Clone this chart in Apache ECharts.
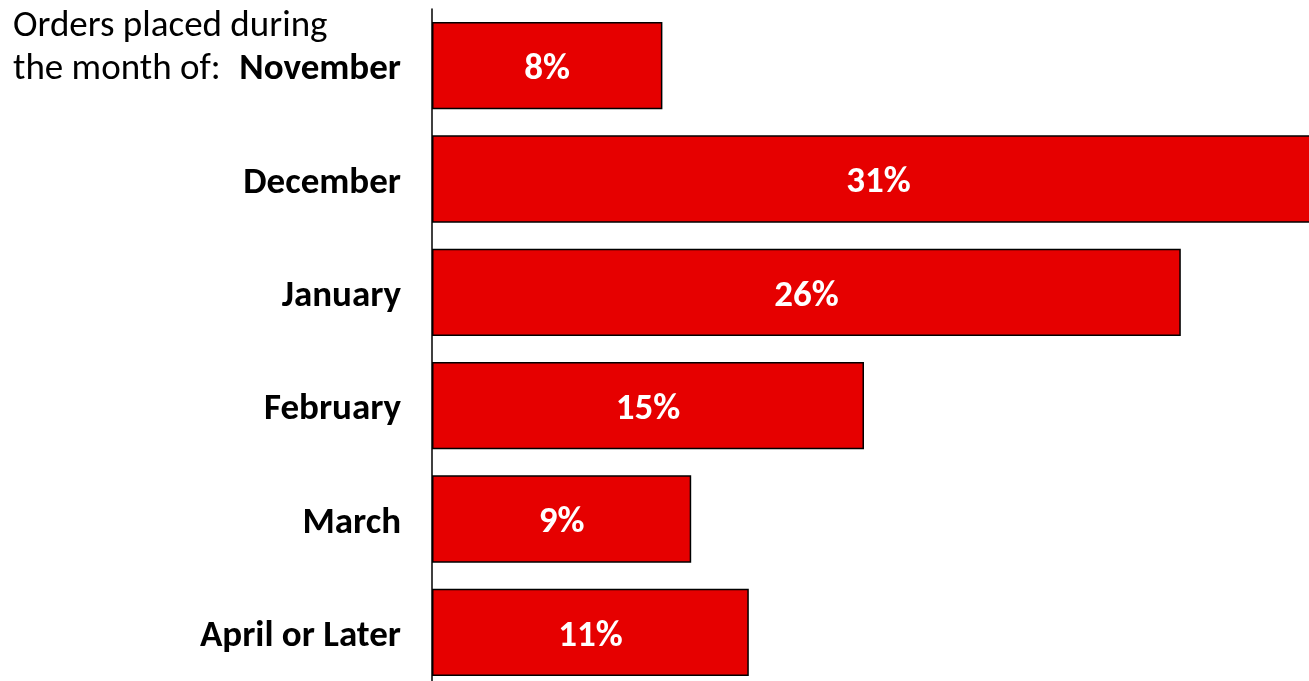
<!DOCTYPE html>
<html>
<head>
<meta charset="utf-8">
<script src="https://cdn.jsdelivr.net/npm/echarts@6/dist/echarts.min.js"></script>
<style>
  html, body { margin: 0; padding: 0; background: #fff; }
  #chart { width: 1309px; height: 681px; }
</style>
</head>
<body>
<div id="chart"></div>
<script>
// order share by month the order was placed
const months = ['November', 'December', 'January', 'February', 'March', 'April or Later'];
const shares = [8, 31, 26, 15, 9, 11];

const FONT = 'Carlito, Lato, sans-serif';

const chart = echarts.init(document.getElementById('chart'));
chart.setOption({
  animation: false,
  title: {
    text: 'Orders placed during\nthe month of:',
    left: 13,
    top: 5,
    padding: 0,
    textStyle: { fontFamily: FONT, fontSize: 37, fontWeight: 'normal', color: '#000', lineHeight: 43 }
  },
  // the December bar runs past the canvas edge in the original,
  // so let the grid overflow the container
  grid: { left: 432, top: 9, height: 680, width: 921.6, outerBoundsMode: 'none' },
  xAxis: { type: 'value', min: 0, max: 32, show: false },
  yAxis: {
    type: 'category',
    data: months,
    inverse: true,
    axisLine: { lineStyle: { color: '#000', width: 1.5 } },
    axisTick: { show: false },
    axisLabel: {
      margin: 31,
      formatter: '{m|{value}}',
      rich: {
        m: { fontFamily: FONT, fontSize: 37, fontWeight: 'bold', color: '#000', padding: [9, 0, 0, 0] }
      }
    }
  },
  series: [{
    type: 'bar',
    data: shares,
    barCategoryGap: '23%',
    itemStyle: { color: '#E60000', borderColor: '#000', borderWidth: 1.5 },
    label: {
      show: true,
      position: 'inside',
      offset: [0, 4],
      formatter: '{c}%',
      color: '#fff',
      fontFamily: FONT,
      fontSize: 37,
      fontWeight: 'bold'
    }
  }]
});
</script>
</body>
</html>
